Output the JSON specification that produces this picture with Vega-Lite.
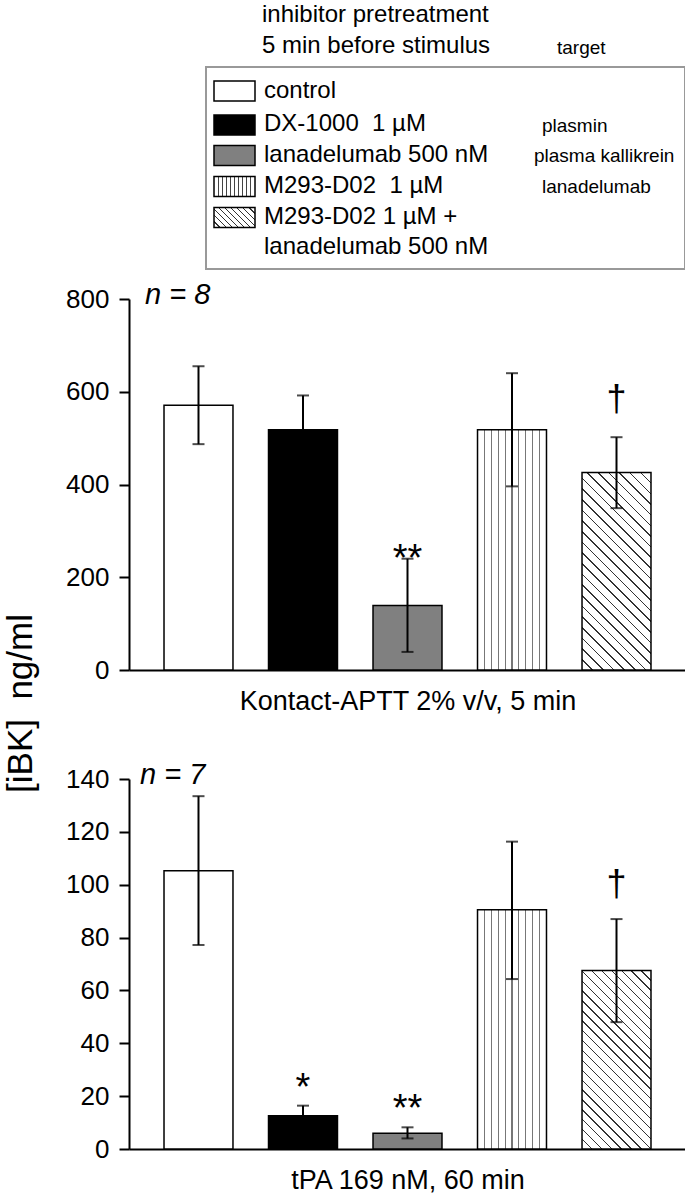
{
  "$schema": "https://vega.github.io/schema/vega-lite/v6.json",
  "background": "white",
  "padding": {"left": 3, "top": 0, "right": 0, "bottom": 0},
  "bounds": "flush",
  "spacing": 109,
  "config": {
    "view": {"stroke": null},
    "font": "Liberation Sans",
    "text": {"font": "Liberation Sans", "color": "black"},
    "title": {"font": "Liberation Sans", "color": "black"},
    "axis": {"labelFont": "Liberation Sans", "titleFont": "Liberation Sans", "labelColor": "black", "titleColor": "black", "domainColor": "black", "tickColor": "black", "grid": false, "domainWidth": 2, "tickWidth": 2}
  },
  "datasets": {
    "kontact": [
      {"treatment": "control", "mean": 571, "lo": 487, "hi": 655, "sig": ""},
      {"treatment": "DX-1000", "mean": 518, "lo": 444, "hi": 592, "sig": ""},
      {"treatment": "lanadelumab", "mean": 139, "lo": 39, "hi": 240, "sig": "**"},
      {"treatment": "M293-D02", "mean": 518, "lo": 396, "hi": 640, "sig": ""},
      {"treatment": "M293-D02 + lanadelumab", "mean": 426, "lo": 349, "hi": 502, "sig": "†"}
    ],
    "tpa": [
      {"treatment": "control", "mean": 105.3, "lo": 77.2, "hi": 133.5, "sig": ""},
      {"treatment": "DX-1000", "mean": 12.6, "lo": 8.8, "hi": 16.4, "sig": "*"},
      {"treatment": "lanadelumab", "mean": 6.0, "lo": 4.0, "hi": 8.2, "sig": "**"},
      {"treatment": "M293-D02", "mean": 90.5, "lo": 64.3, "hi": 116.3, "sig": ""},
      {"treatment": "M293-D02 + lanadelumab", "mean": 67.5, "lo": 48, "hi": 87, "sig": "†"}
    ],
    "legendKeys": [
      {"treatment": "control", "col": 10.55, "line": 9.1},
      {"treatment": "DX-1000", "col": 10.55, "line": 12.5},
      {"treatment": "lanadelumab", "col": 10.55, "line": 15.55},
      {"treatment": "M293-D02", "col": 10.55, "line": 18.65},
      {"treatment": "M293-D02 + lanadelumab", "col": 10.55, "line": 21.75}
    ],
    "legendText": [
      {"text": "inhibitor pretreatment", "col": 13.3, "line": 1.5},
      {"text": "5 min before stimulus", "col": 13.3, "line": 4.6},
      {"text": "control", "col": 13.5, "line": 9.1},
      {"text": "DX-1000\u00a0\u00a01 µM", "col": 13.5, "line": 12.4},
      {"text": "lanadelumab 500 nM", "col": 13.5, "line": 15.5},
      {"text": "M293-D02\u00a0\u00a01 µM", "col": 13.5, "line": 18.6},
      {"text": "M293-D02 1 µM +", "col": 13.5, "line": 21.7},
      {"text": "lanadelumab 500 nM", "col": 13.5, "line": 24.7}
    ],
    "legendTargets": [
      {"text": "target", "col": 42.8, "line": 4.8},
      {"text": "plasmin", "col": 41.3, "line": 12.6},
      {"text": "plasma kallikrein", "col": 40.5, "line": 15.6},
      {"text": "lanadelumab", "col": 41.3, "line": 18.7}
    ],
    "legendFrame": [
      {"left": 7.7, "right": 55.6, "upper": 6.7, "lower": 26.9}
    ]
  },
  "vconcat": [
    {
      "width": 557,
      "height": 190,
      "layer": [
        {
          "data": {"name": "legendFrame"},
          "mark": {"type": "rect", "fill": "transparent", "stroke": "#999999", "strokeWidth": 2},
          "encoding": {
            "x": {"field": "left", "type": "quantitative", "scale": {"domain": [0, 55.7], "nice": false, "zero": false}, "axis": null},
            "x2": {"field": "right"},
            "y": {"field": "upper", "type": "quantitative", "scale": {"domain": [0, 19], "nice": false, "zero": false, "reverse": true}, "axis": null},
            "y2": {"field": "lower"}
          }
        },
        {
          "data": {"name": "legendKeys"},
          "mark": {"type": "rect", "width": 41, "height": 20, "stroke": "black", "strokeWidth": 1.5},
          "encoding": {
            "x": {"field": "col", "type": "quantitative", "scale": {"domain": [0, 55.7], "nice": false, "zero": false}, "axis": null},
            "y": {"field": "line", "type": "quantitative", "scale": {"domain": [0, 19], "nice": false, "zero": false, "reverse": true}, "axis": null},
            "fill": {
              "condition": [
                {"test": "datum.treatment === 'DX-1000'", "value": "black"},
                {"test": "datum.treatment === 'lanadelumab'", "value": "#808080"},
                {"test": "datum.treatment === 'M293-D02'", "value": {"gradient": "linear", "x1": 0, "y1": 0, "x2": 1, "y2": 0, "stops": [
                  {"offset": 0, "color": "white"},
                  {"offset": 0.088, "color": "white"}, {"offset": 0.088, "color": "#444"}, {"offset": 0.112, "color": "#444"}, {"offset": 0.112, "color": "white"},
                  {"offset": 0.188, "color": "white"}, {"offset": 0.188, "color": "#444"}, {"offset": 0.212, "color": "#444"}, {"offset": 0.212, "color": "white"},
                  {"offset": 0.288, "color": "white"}, {"offset": 0.288, "color": "#444"}, {"offset": 0.312, "color": "#444"}, {"offset": 0.312, "color": "white"},
                  {"offset": 0.388, "color": "white"}, {"offset": 0.388, "color": "#444"}, {"offset": 0.412, "color": "#444"}, {"offset": 0.412, "color": "white"},
                  {"offset": 0.488, "color": "white"}, {"offset": 0.488, "color": "#444"}, {"offset": 0.512, "color": "#444"}, {"offset": 0.512, "color": "white"},
                  {"offset": 0.588, "color": "white"}, {"offset": 0.588, "color": "#444"}, {"offset": 0.612, "color": "#444"}, {"offset": 0.612, "color": "white"},
                  {"offset": 0.688, "color": "white"}, {"offset": 0.688, "color": "#444"}, {"offset": 0.712, "color": "#444"}, {"offset": 0.712, "color": "white"},
                  {"offset": 0.788, "color": "white"}, {"offset": 0.788, "color": "#444"}, {"offset": 0.812, "color": "#444"}, {"offset": 0.812, "color": "white"},
                  {"offset": 0.888, "color": "white"}, {"offset": 0.888, "color": "#444"}, {"offset": 0.912, "color": "#444"}, {"offset": 0.912, "color": "white"},
                  {"offset": 1, "color": "white"}
                ]}},
                {"test": "datum.treatment === 'M293-D02 + lanadelumab'", "value": {"gradient": "linear", "x1": 0, "y1": 1, "x2": 1.2018, "y2": 0.4138, "stops": [
                  {"offset": 0, "color": "white"},
                  {"offset": 0.09, "color": "white"}, {"offset": 0.09, "color": "#333"}, {"offset": 0.11, "color": "#333"}, {"offset": 0.11, "color": "white"},
                  {"offset": 0.19, "color": "white"}, {"offset": 0.19, "color": "#333"}, {"offset": 0.21, "color": "#333"}, {"offset": 0.21, "color": "white"},
                  {"offset": 0.29, "color": "white"}, {"offset": 0.29, "color": "#333"}, {"offset": 0.31, "color": "#333"}, {"offset": 0.31, "color": "white"},
                  {"offset": 0.39, "color": "white"}, {"offset": 0.39, "color": "#333"}, {"offset": 0.41, "color": "#333"}, {"offset": 0.41, "color": "white"},
                  {"offset": 0.49, "color": "white"}, {"offset": 0.49, "color": "#333"}, {"offset": 0.51, "color": "#333"}, {"offset": 0.51, "color": "white"},
                  {"offset": 0.59, "color": "white"}, {"offset": 0.59, "color": "#333"}, {"offset": 0.61, "color": "#333"}, {"offset": 0.61, "color": "white"},
                  {"offset": 0.69, "color": "white"}, {"offset": 0.69, "color": "#333"}, {"offset": 0.71, "color": "#333"}, {"offset": 0.71, "color": "white"},
                  {"offset": 0.79, "color": "white"}, {"offset": 0.79, "color": "#333"}, {"offset": 0.81, "color": "#333"}, {"offset": 0.81, "color": "white"},
                  {"offset": 0.89, "color": "white"}, {"offset": 0.89, "color": "#333"}, {"offset": 0.91, "color": "#333"}, {"offset": 0.91, "color": "white"},
                  {"offset": 1, "color": "white"}
                ]}}
              ],
              "value": "white"
            }
          }
        },
        {
          "data": {"name": "legendText"},
          "mark": {"type": "text", "align": "left", "baseline": "middle", "fontSize": 24, "color": "black"},
          "encoding": {
            "x": {"field": "col", "type": "quantitative", "scale": {"domain": [0, 55.7], "nice": false, "zero": false}, "axis": null},
            "y": {"field": "line", "type": "quantitative", "scale": {"domain": [0, 19], "nice": false, "zero": false, "reverse": true}, "axis": null},
            "text": {"field": "text"}
          }
        },
        {
          "data": {"name": "legendTargets"},
          "mark": {"type": "text", "align": "left", "baseline": "middle", "fontSize": 19, "color": "black"},
          "encoding": {
            "x": {"field": "col", "type": "quantitative", "scale": {"domain": [0, 55.7], "nice": false, "zero": false}, "axis": null},
            "y": {"field": "line", "type": "quantitative", "scale": {"domain": [0, 19], "nice": false, "zero": false, "reverse": true}, "axis": null},
            "text": {"field": "text"}
          }
        }
      ]
    },
    {
      "width": 557,
      "height": 371,
      "title": {"text": "n = 8", "anchor": "start", "frame": "group", "orient": "top", "offset": -47, "baseline": "alphabetic", "dx": 16, "fontSize": 29, "fontStyle": "italic", "fontWeight": "normal", "color": "black"},
      "data": {"name": "kontact"},
      "encoding": {
        "x": {"field": "treatment", "type": "nominal", "sort": ["control", "DX-1000", "lanadelumab", "M293-D02", "M293-D02 + lanadelumab"], "scale": {"paddingInner": 0.34, "paddingOuter": 0.335},
          "axis": {"labels": false, "ticks": false, "title": "Kontact-APTT 2% v/v, 5 min", "titleFontSize": 27, "titleFontWeight": "normal", "titlePadding": 39, "titleBaseline": "alphabetic"}}
      },
      "layer": [
        {
          "mark": {"type": "bar", "stroke": "black", "strokeWidth": 1.5},
          "encoding": {
            "y": {"field": "mean", "type": "quantitative", "title": "[iBK]\u00a0\u00a0ng/ml", "scale": {"domain": [0, 800], "nice": false},
              "axis": {"values": [0, 200, 400, 600, 800], "tickSize": 10, "labelFontSize": 26, "labelPadding": 10, "titleFontSize": 35, "titleFontWeight": "normal", "titleX": -98, "titleY": 404, "titleAngle": 270, "titleAlign": "center", "titleBaseline": "alphabetic"}},
            "fill": {
              "condition": [
                {"test": "datum.treatment === 'DX-1000'", "value": "black"},
                {"test": "datum.treatment === 'lanadelumab'", "value": "#808080"},
                {"test": "datum.treatment === 'M293-D02'", "value": {"gradient": "linear", "x1": 0, "y1": 0, "x2": 1, "y2": 0, "stops": [
                  {"offset": 0, "color": "white"},
                  {"offset": 0.092, "color": "white"}, {"offset": 0.092, "color": "#777"}, {"offset": 0.108, "color": "#777"}, {"offset": 0.108, "color": "white"},
                  {"offset": 0.192, "color": "white"}, {"offset": 0.192, "color": "#777"}, {"offset": 0.208, "color": "#777"}, {"offset": 0.208, "color": "white"},
                  {"offset": 0.292, "color": "white"}, {"offset": 0.292, "color": "#777"}, {"offset": 0.308, "color": "#777"}, {"offset": 0.308, "color": "white"},
                  {"offset": 0.392, "color": "white"}, {"offset": 0.392, "color": "#777"}, {"offset": 0.408, "color": "#777"}, {"offset": 0.408, "color": "white"},
                  {"offset": 0.492, "color": "white"}, {"offset": 0.492, "color": "#777"}, {"offset": 0.508, "color": "#777"}, {"offset": 0.508, "color": "white"},
                  {"offset": 0.592, "color": "white"}, {"offset": 0.592, "color": "#777"}, {"offset": 0.608, "color": "#777"}, {"offset": 0.608, "color": "white"},
                  {"offset": 0.692, "color": "white"}, {"offset": 0.692, "color": "#777"}, {"offset": 0.708, "color": "#777"}, {"offset": 0.708, "color": "white"},
                  {"offset": 0.792, "color": "white"}, {"offset": 0.792, "color": "#777"}, {"offset": 0.808, "color": "#777"}, {"offset": 0.808, "color": "white"},
                  {"offset": 0.892, "color": "white"}, {"offset": 0.892, "color": "#777"}, {"offset": 0.908, "color": "#777"}, {"offset": 0.908, "color": "white"},
                  {"offset": 1, "color": "white"}
                ]}},
                {"test": "datum.treatment === 'M293-D02 + lanadelumab'", "value": {"gradient": "linear", "x1": 0, "y1": 1, "x2": 0.4199, "y2": -0.2026, "stops": [
                  {"offset": 0, "color": "white"},
                  {"offset": 0.0372, "color": "white"}, {"offset": 0.0372, "color": "#333"}, {"offset": 0.0428, "color": "#333"}, {"offset": 0.0428, "color": "white"},
                  {"offset": 0.0772, "color": "white"}, {"offset": 0.0772, "color": "#333"}, {"offset": 0.0828, "color": "#333"}, {"offset": 0.0828, "color": "white"},
                  {"offset": 0.1172, "color": "white"}, {"offset": 0.1172, "color": "#333"}, {"offset": 0.1228, "color": "#333"}, {"offset": 0.1228, "color": "white"},
                  {"offset": 0.1572, "color": "white"}, {"offset": 0.1572, "color": "#333"}, {"offset": 0.1628, "color": "#333"}, {"offset": 0.1628, "color": "white"},
                  {"offset": 0.1972, "color": "white"}, {"offset": 0.1972, "color": "#333"}, {"offset": 0.2028, "color": "#333"}, {"offset": 0.2028, "color": "white"},
                  {"offset": 0.2372, "color": "white"}, {"offset": 0.2372, "color": "#333"}, {"offset": 0.2428, "color": "#333"}, {"offset": 0.2428, "color": "white"},
                  {"offset": 0.2772, "color": "white"}, {"offset": 0.2772, "color": "#333"}, {"offset": 0.2828, "color": "#333"}, {"offset": 0.2828, "color": "white"},
                  {"offset": 0.3172, "color": "white"}, {"offset": 0.3172, "color": "#333"}, {"offset": 0.3228, "color": "#333"}, {"offset": 0.3228, "color": "white"},
                  {"offset": 0.3572, "color": "white"}, {"offset": 0.3572, "color": "#333"}, {"offset": 0.3628, "color": "#333"}, {"offset": 0.3628, "color": "white"},
                  {"offset": 0.3972, "color": "white"}, {"offset": 0.3972, "color": "#333"}, {"offset": 0.4028, "color": "#333"}, {"offset": 0.4028, "color": "white"},
                  {"offset": 0.4372, "color": "white"}, {"offset": 0.4372, "color": "#333"}, {"offset": 0.4428, "color": "#333"}, {"offset": 0.4428, "color": "white"},
                  {"offset": 0.4772, "color": "white"}, {"offset": 0.4772, "color": "#333"}, {"offset": 0.4828, "color": "#333"}, {"offset": 0.4828, "color": "white"},
                  {"offset": 0.5172, "color": "white"}, {"offset": 0.5172, "color": "#333"}, {"offset": 0.5228, "color": "#333"}, {"offset": 0.5228, "color": "white"},
                  {"offset": 0.5572, "color": "white"}, {"offset": 0.5572, "color": "#333"}, {"offset": 0.5628, "color": "#333"}, {"offset": 0.5628, "color": "white"},
                  {"offset": 0.5972, "color": "white"}, {"offset": 0.5972, "color": "#333"}, {"offset": 0.6028, "color": "#333"}, {"offset": 0.6028, "color": "white"},
                  {"offset": 0.6372, "color": "white"}, {"offset": 0.6372, "color": "#333"}, {"offset": 0.6428, "color": "#333"}, {"offset": 0.6428, "color": "white"},
                  {"offset": 0.6772, "color": "white"}, {"offset": 0.6772, "color": "#333"}, {"offset": 0.6828, "color": "#333"}, {"offset": 0.6828, "color": "white"},
                  {"offset": 0.7172, "color": "white"}, {"offset": 0.7172, "color": "#333"}, {"offset": 0.7228, "color": "#333"}, {"offset": 0.7228, "color": "white"},
                  {"offset": 0.7572, "color": "white"}, {"offset": 0.7572, "color": "#333"}, {"offset": 0.7628, "color": "#333"}, {"offset": 0.7628, "color": "white"},
                  {"offset": 0.7972, "color": "white"}, {"offset": 0.7972, "color": "#333"}, {"offset": 0.8028, "color": "#333"}, {"offset": 0.8028, "color": "white"},
                  {"offset": 0.8372, "color": "white"}, {"offset": 0.8372, "color": "#333"}, {"offset": 0.8428, "color": "#333"}, {"offset": 0.8428, "color": "white"},
                  {"offset": 0.8772, "color": "white"}, {"offset": 0.8772, "color": "#333"}, {"offset": 0.8828, "color": "#333"}, {"offset": 0.8828, "color": "white"},
                  {"offset": 0.9172, "color": "white"}, {"offset": 0.9172, "color": "#333"}, {"offset": 0.9228, "color": "#333"}, {"offset": 0.9228, "color": "white"},
                  {"offset": 0.9572, "color": "white"}, {"offset": 0.9572, "color": "#333"}, {"offset": 0.9628, "color": "#333"}, {"offset": 0.9628, "color": "white"},
                  {"offset": 1, "color": "white"}
                ]}}
              ],
              "value": "white"
            }
          }
        },
        {
          "mark": {"type": "rule", "color": "black", "strokeWidth": 2},
          "encoding": {
            "y": {"field": "lo", "type": "quantitative", "title": "[iBK]\u00a0\u00a0ng/ml"},
            "y2": {"field": "hi"}
          }
        },
        {
          "mark": {"type": "tick", "orient": "horizontal", "color": "black", "size": 12, "thickness": 2},
          "encoding": {"y": {"field": "lo", "type": "quantitative", "title": "[iBK]\u00a0\u00a0ng/ml"}}
        },
        {
          "mark": {"type": "tick", "orient": "horizontal", "color": "black", "size": 12, "thickness": 2},
          "encoding": {"y": {"field": "hi", "type": "quantitative", "title": "[iBK]\u00a0\u00a0ng/ml"}}
        },
        {
          "transform": [{"filter": "datum.sig === '**' || datum.sig === '*'"}],
          "mark": {"type": "text", "fontSize": 38, "baseline": "alphabetic", "dy": 12, "color": "black"},
          "encoding": {"y": {"field": "hi", "type": "quantitative", "title": "[iBK]\u00a0\u00a0ng/ml"}, "text": {"field": "sig"}}
        },
        {
          "transform": [{"filter": "datum.sig === '†'"}],
          "mark": {"type": "text", "fontSize": 36, "baseline": "alphabetic", "dy": -26, "color": "black"},
          "encoding": {"y": {"field": "hi", "type": "quantitative", "title": "[iBK]\u00a0\u00a0ng/ml"}, "text": {"field": "sig"}}
        }
      ]
    },
    {
      "width": 557,
      "height": 370,
      "title": {"text": "n = 7", "anchor": "start", "frame": "group", "orient": "top", "offset": -47, "baseline": "alphabetic", "dx": 11, "fontSize": 29, "fontStyle": "italic", "fontWeight": "normal", "color": "black"},
      "data": {"name": "tpa"},
      "encoding": {
        "x": {"field": "treatment", "type": "nominal", "sort": ["control", "DX-1000", "lanadelumab", "M293-D02", "M293-D02 + lanadelumab"], "scale": {"paddingInner": 0.34, "paddingOuter": 0.335},
          "axis": {"labels": false, "ticks": false, "title": "tPA 169 nM, 60 min", "titleFontSize": 27, "titleFontWeight": "normal", "titlePadding": 39, "titleBaseline": "alphabetic"}}
      },
      "layer": [
        {
          "mark": {"type": "bar", "stroke": "black", "strokeWidth": 1.5},
          "encoding": {
            "y": {"field": "mean", "type": "quantitative", "title": null, "scale": {"domain": [0, 140], "nice": false},
              "axis": {"values": [0, 20, 40, 60, 80, 100, 120, 140], "tickSize": 10, "labelFontSize": 26, "labelPadding": 10, "title": null}},
            "fill": {
              "condition": [
                {"test": "datum.treatment === 'DX-1000'", "value": "black"},
                {"test": "datum.treatment === 'lanadelumab'", "value": "#808080"},
                {"test": "datum.treatment === 'M293-D02'", "value": {"gradient": "linear", "x1": 0, "y1": 0, "x2": 1, "y2": 0, "stops": [
                  {"offset": 0, "color": "white"},
                  {"offset": 0.092, "color": "white"}, {"offset": 0.092, "color": "#777"}, {"offset": 0.108, "color": "#777"}, {"offset": 0.108, "color": "white"},
                  {"offset": 0.192, "color": "white"}, {"offset": 0.192, "color": "#777"}, {"offset": 0.208, "color": "#777"}, {"offset": 0.208, "color": "white"},
                  {"offset": 0.292, "color": "white"}, {"offset": 0.292, "color": "#777"}, {"offset": 0.308, "color": "#777"}, {"offset": 0.308, "color": "white"},
                  {"offset": 0.392, "color": "white"}, {"offset": 0.392, "color": "#777"}, {"offset": 0.408, "color": "#777"}, {"offset": 0.408, "color": "white"},
                  {"offset": 0.492, "color": "white"}, {"offset": 0.492, "color": "#777"}, {"offset": 0.508, "color": "#777"}, {"offset": 0.508, "color": "white"},
                  {"offset": 0.592, "color": "white"}, {"offset": 0.592, "color": "#777"}, {"offset": 0.608, "color": "#777"}, {"offset": 0.608, "color": "white"},
                  {"offset": 0.692, "color": "white"}, {"offset": 0.692, "color": "#777"}, {"offset": 0.708, "color": "#777"}, {"offset": 0.708, "color": "white"},
                  {"offset": 0.792, "color": "white"}, {"offset": 0.792, "color": "#777"}, {"offset": 0.808, "color": "#777"}, {"offset": 0.808, "color": "white"},
                  {"offset": 0.892, "color": "white"}, {"offset": 0.892, "color": "#777"}, {"offset": 0.908, "color": "#777"}, {"offset": 0.908, "color": "white"},
                  {"offset": 1, "color": "white"}
                ]}},
                {"test": "datum.treatment === 'M293-D02 + lanadelumab'", "value": {"gradient": "linear", "x1": 0, "y1": 1, "x2": 0.4665, "y2": -0.2064, "stops": [
                  {"offset": 0, "color": "white"},
                  {"offset": 0.0372, "color": "white"}, {"offset": 0.0372, "color": "#333"}, {"offset": 0.0428, "color": "#333"}, {"offset": 0.0428, "color": "white"},
                  {"offset": 0.0772, "color": "white"}, {"offset": 0.0772, "color": "#333"}, {"offset": 0.0828, "color": "#333"}, {"offset": 0.0828, "color": "white"},
                  {"offset": 0.1172, "color": "white"}, {"offset": 0.1172, "color": "#333"}, {"offset": 0.1228, "color": "#333"}, {"offset": 0.1228, "color": "white"},
                  {"offset": 0.1572, "color": "white"}, {"offset": 0.1572, "color": "#333"}, {"offset": 0.1628, "color": "#333"}, {"offset": 0.1628, "color": "white"},
                  {"offset": 0.1972, "color": "white"}, {"offset": 0.1972, "color": "#333"}, {"offset": 0.2028, "color": "#333"}, {"offset": 0.2028, "color": "white"},
                  {"offset": 0.2372, "color": "white"}, {"offset": 0.2372, "color": "#333"}, {"offset": 0.2428, "color": "#333"}, {"offset": 0.2428, "color": "white"},
                  {"offset": 0.2772, "color": "white"}, {"offset": 0.2772, "color": "#333"}, {"offset": 0.2828, "color": "#333"}, {"offset": 0.2828, "color": "white"},
                  {"offset": 0.3172, "color": "white"}, {"offset": 0.3172, "color": "#333"}, {"offset": 0.3228, "color": "#333"}, {"offset": 0.3228, "color": "white"},
                  {"offset": 0.3572, "color": "white"}, {"offset": 0.3572, "color": "#333"}, {"offset": 0.3628, "color": "#333"}, {"offset": 0.3628, "color": "white"},
                  {"offset": 0.3972, "color": "white"}, {"offset": 0.3972, "color": "#333"}, {"offset": 0.4028, "color": "#333"}, {"offset": 0.4028, "color": "white"},
                  {"offset": 0.4372, "color": "white"}, {"offset": 0.4372, "color": "#333"}, {"offset": 0.4428, "color": "#333"}, {"offset": 0.4428, "color": "white"},
                  {"offset": 0.4772, "color": "white"}, {"offset": 0.4772, "color": "#333"}, {"offset": 0.4828, "color": "#333"}, {"offset": 0.4828, "color": "white"},
                  {"offset": 0.5172, "color": "white"}, {"offset": 0.5172, "color": "#333"}, {"offset": 0.5228, "color": "#333"}, {"offset": 0.5228, "color": "white"},
                  {"offset": 0.5572, "color": "white"}, {"offset": 0.5572, "color": "#333"}, {"offset": 0.5628, "color": "#333"}, {"offset": 0.5628, "color": "white"},
                  {"offset": 0.5972, "color": "white"}, {"offset": 0.5972, "color": "#333"}, {"offset": 0.6028, "color": "#333"}, {"offset": 0.6028, "color": "white"},
                  {"offset": 0.6372, "color": "white"}, {"offset": 0.6372, "color": "#333"}, {"offset": 0.6428, "color": "#333"}, {"offset": 0.6428, "color": "white"},
                  {"offset": 0.6772, "color": "white"}, {"offset": 0.6772, "color": "#333"}, {"offset": 0.6828, "color": "#333"}, {"offset": 0.6828, "color": "white"},
                  {"offset": 0.7172, "color": "white"}, {"offset": 0.7172, "color": "#333"}, {"offset": 0.7228, "color": "#333"}, {"offset": 0.7228, "color": "white"},
                  {"offset": 0.7572, "color": "white"}, {"offset": 0.7572, "color": "#333"}, {"offset": 0.7628, "color": "#333"}, {"offset": 0.7628, "color": "white"},
                  {"offset": 0.7972, "color": "white"}, {"offset": 0.7972, "color": "#333"}, {"offset": 0.8028, "color": "#333"}, {"offset": 0.8028, "color": "white"},
                  {"offset": 0.8372, "color": "white"}, {"offset": 0.8372, "color": "#333"}, {"offset": 0.8428, "color": "#333"}, {"offset": 0.8428, "color": "white"},
                  {"offset": 0.8772, "color": "white"}, {"offset": 0.8772, "color": "#333"}, {"offset": 0.8828, "color": "#333"}, {"offset": 0.8828, "color": "white"},
                  {"offset": 0.9172, "color": "white"}, {"offset": 0.9172, "color": "#333"}, {"offset": 0.9228, "color": "#333"}, {"offset": 0.9228, "color": "white"},
                  {"offset": 0.9572, "color": "white"}, {"offset": 0.9572, "color": "#333"}, {"offset": 0.9628, "color": "#333"}, {"offset": 0.9628, "color": "white"},
                  {"offset": 1, "color": "white"}
                ]}}
              ],
              "value": "white"
            }
          }
        },
        {
          "mark": {"type": "rule", "color": "black", "strokeWidth": 2},
          "encoding": {
            "y": {"field": "lo", "type": "quantitative", "title": null},
            "y2": {"field": "hi"}
          }
        },
        {
          "mark": {"type": "tick", "orient": "horizontal", "color": "black", "size": 12, "thickness": 2},
          "encoding": {"y": {"field": "lo", "type": "quantitative", "title": null}}
        },
        {
          "mark": {"type": "tick", "orient": "horizontal", "color": "black", "size": 12, "thickness": 2},
          "encoding": {"y": {"field": "hi", "type": "quantitative", "title": null}}
        },
        {
          "transform": [{"filter": "datum.sig === '**' || datum.sig === '*'"}],
          "mark": {"type": "text", "fontSize": 38, "baseline": "alphabetic", "dy": -6, "color": "black"},
          "encoding": {"y": {"field": "hi", "type": "quantitative", "title": null}, "text": {"field": "sig"}}
        },
        {
          "transform": [{"filter": "datum.sig === '†'"}],
          "mark": {"type": "text", "fontSize": 36, "baseline": "alphabetic", "dy": -23, "color": "black"},
          "encoding": {"y": {"field": "hi", "type": "quantitative", "title": null}, "text": {"field": "sig"}}
        }
      ]
    }
  ]
}
